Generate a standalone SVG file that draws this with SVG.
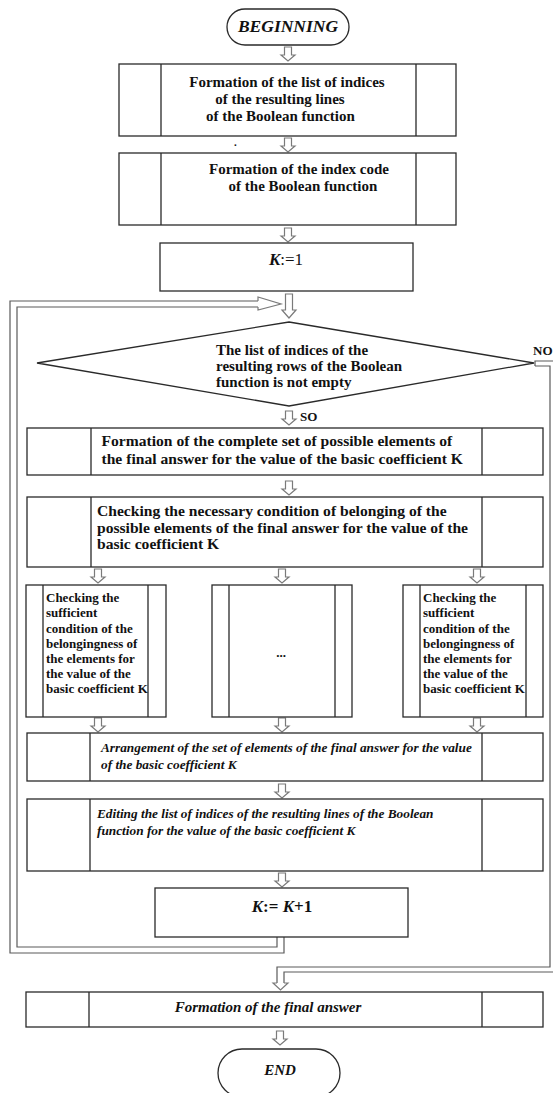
<svg xmlns="http://www.w3.org/2000/svg" xmlns:xlink="http://www.w3.org/1999/xlink" width="553" height="1093" viewBox="0 0 553 1093">
<style>
.box{fill:#fff;stroke:#2a2a2a;stroke-width:1.3}
.ln{fill:none;stroke:#2a2a2a;stroke-width:1.3}
.arr{fill:#fff;stroke:#7a7a7a;stroke-width:1.2}
.loop{fill:none;stroke:#5a5a5a;stroke-width:1.2}
.t{font-family:"Liberation Serif","Times New Roman",serif;font-weight:bold;fill:#111}
.s15{font-size:15px}
.s155{font-size:15.6px}
.s13{font-size:13px}
.si{font-size:13.3px}
.it{font-style:italic}
.mid{text-anchor:middle}
</style>
<defs>
<path id="da" class="arr" d="M-3.5,0 H3.5 V8 H7 L0,14 L-7,8 H-3.5 Z"/>
<path id="dal" class="arr" d="M-3.5,0 H3.5 V16 H7 L0,24 L-7,16 H-3.5 Z"/>
</defs>
<rect width="553" height="1093" fill="#fff"/>

<g id="connectors">
<use xlink:href="#da" x="288" y="47"/>
<use xlink:href="#da" x="288" y="138"/>
<use xlink:href="#da" x="288" y="228"/>
<use xlink:href="#dal" x="289" y="294"/>
<use xlink:href="#da" x="289" y="411"/>
<use xlink:href="#da" x="289" y="481"/>
<use xlink:href="#da" x="98" y="569"/>
<use xlink:href="#da" x="282" y="569"/>
<use xlink:href="#da" x="477" y="569"/>
<use xlink:href="#da" x="98" y="718"/>
<use xlink:href="#da" x="282" y="718"/>
<use xlink:href="#da" x="477" y="718"/>
<use xlink:href="#da" x="282" y="784"/>
<use xlink:href="#da" x="282" y="873"/>
<use xlink:href="#da" x="280" y="1031"/>
<!-- loop back from K:=K+1 to condition -->
<path class="loop" d="M284,937 V953 H10 V301 H258"/>
<path class="loop" d="M277,937 V947 H17 V307 H258"/>
<path class="arr" d="M258,301 V297 L281,304 L258,310 V307"/>
<!-- NO branch -->
<path class="loop" d="M535,366 H550 V967 H277 V983"/>
<path class="loop" d="M535,366 V361 H558 V972 H284 V983"/>
<path class="arr" d="M277,983 H273 L280.5,990 L288,983 H284"/>
<text class="t s13" x="300" y="421">SO</text>
<text class="t" font-size="13" x="533" y="355">NO</text>
</g>

<g id="begin">
<rect class="box" x="227" y="9" width="122" height="36" rx="18"/>
<text class="t it mid" font-size="17.5" x="288" y="32">BEGINNING</text>
</g>

<g id="n1">
<rect class="box" x="119" y="64" width="337" height="72"/>
<path class="ln" d="M161,64 V136 M416,64 V136"/>
<text class="t s15 mid" x="287" y="87">Formation of the list of indices</text>
<text class="t s15 mid" x="280" y="104">of the resulting lines</text>
<text class="t s15 mid" x="280.5" y="121">of the Boolean function</text>
</g>
<text class="t" font-size="11" x="234" y="146">.</text>

<g id="n2">
<rect class="box" x="119" y="153" width="337" height="72"/>
<path class="ln" d="M161,153 V225 M416,153 V225"/>
<text class="t s15 mid" x="299" y="174">Formation of the index code</text>
<text class="t s15 mid" x="303" y="191">of the Boolean function</text>
</g>

<g id="n3">
<rect class="box" x="160" y="243" width="253" height="48"/>
<text class="t mid" font-size="17" x="286" y="265"><tspan font-style="italic">K</tspan><tspan font-weight="normal">:=1</tspan></text>
</g>

<g id="cond">
<polygon class="box" points="289,322 534,363 289,406 37,363"/>
<text class="t s15" x="216" y="355">The list of indices of the</text>
<text class="t s15" x="216" y="371">resulting rows of the Boolean</text>
<text class="t s15" x="216" y="387">function is not empty</text>
</g>

<g id="n4">
<rect class="box" x="27" y="428" width="516" height="47"/>
<path class="ln" d="M91,428 V475 M482,428 V475"/>
<text class="t s155" x="101.5" y="446">Formation of the complete set of possible elements of</text>
<text class="t s155" x="101.5" y="464">the final answer for the value of the basic coefficient K</text>
</g>

<g id="n5">
<rect class="box" x="27" y="497" width="516" height="70"/>
<path class="ln" d="M91,497 V567 M482,497 V567"/>
<text class="t s155" x="97" y="516">Checking the necessary condition of belonging of the</text>
<text class="t s155" x="97" y="533">possible elements of the final answer for the value of the</text>
<text class="t s155" x="97" y="549">basic coefficient K</text>
</g>

<g id="n6a">
<rect class="box" x="26" y="585" width="140" height="132"/>
<path class="ln" d="M43,585 V717 M148,585 V717"/>
<text class="t s13" x="46" y="602">Checking the</text>
<text class="t s13" x="46" y="617">sufficient</text>
<text class="t s13" x="46" y="632.5">condition of the</text>
<text class="t s13" x="46" y="648">belongingness of</text>
<text class="t s13" x="46" y="663">the elements for</text>
<text class="t s13" x="46" y="678">the value of the</text>
<text class="t s13" x="46" y="693">basic coefficient K</text>
</g>

<g id="n6b">
<rect class="box" x="212" y="585" width="140" height="132"/>
<path class="ln" d="M229,585 V717 M335,585 V717"/>
<text class="t s13 mid" x="281" y="657">...</text>
</g>

<g id="n6c">
<rect class="box" x="403" y="585" width="140" height="132"/>
<path class="ln" d="M420,585 V717 M526,585 V717"/>
<text class="t s13" x="423" y="602">Checking the</text>
<text class="t s13" x="423" y="617">sufficient</text>
<text class="t s13" x="423" y="632.5">condition of the</text>
<text class="t s13" x="423" y="648">belongingness of</text>
<text class="t s13" x="423" y="663">the elements for</text>
<text class="t s13" x="423" y="678">the value of the</text>
<text class="t s13" x="423" y="693">basic coefficient K</text>
</g>

<g id="n7">
<rect class="box" x="27" y="733" width="516" height="48"/>
<path class="ln" d="M90,733 V781 M482,733 V781"/>
<text class="t it si" x="101" y="752">Arrangement of the set of elements of the final answer for the value</text>
<text class="t it si" x="101" y="769">of the basic coefficient K</text>
</g>

<g id="n8">
<rect class="box" x="27" y="799" width="516" height="72"/>
<path class="ln" d="M90,799 V871 M482,799 V871"/>
<text class="t it si" x="97" y="818">Editing the list of indices of the resulting lines of the Boolean</text>
<text class="t it si" x="97" y="835">function for the value of the basic coefficient K</text>
</g>

<g id="n9">
<rect class="box" x="155" y="888" width="253" height="49"/>
<text class="t mid" font-size="17" x="282" y="912"><tspan font-style="italic">K</tspan>:= <tspan font-style="italic">K</tspan>+1</text>
</g>

<g id="n10">
<rect class="box" x="26" y="992" width="517" height="35"/>
<path class="ln" d="M89,992 V1027 M482,992 V1027"/>
<text class="t it mid" font-size="15" x="268" y="1012">Formation of the final answer</text>
</g>

<g id="end">
<rect class="box" x="218" y="1049" width="122" height="48" rx="24"/>
<text class="t it mid" font-size="15" x="280" y="1075">END</text>
</g>
</svg>
